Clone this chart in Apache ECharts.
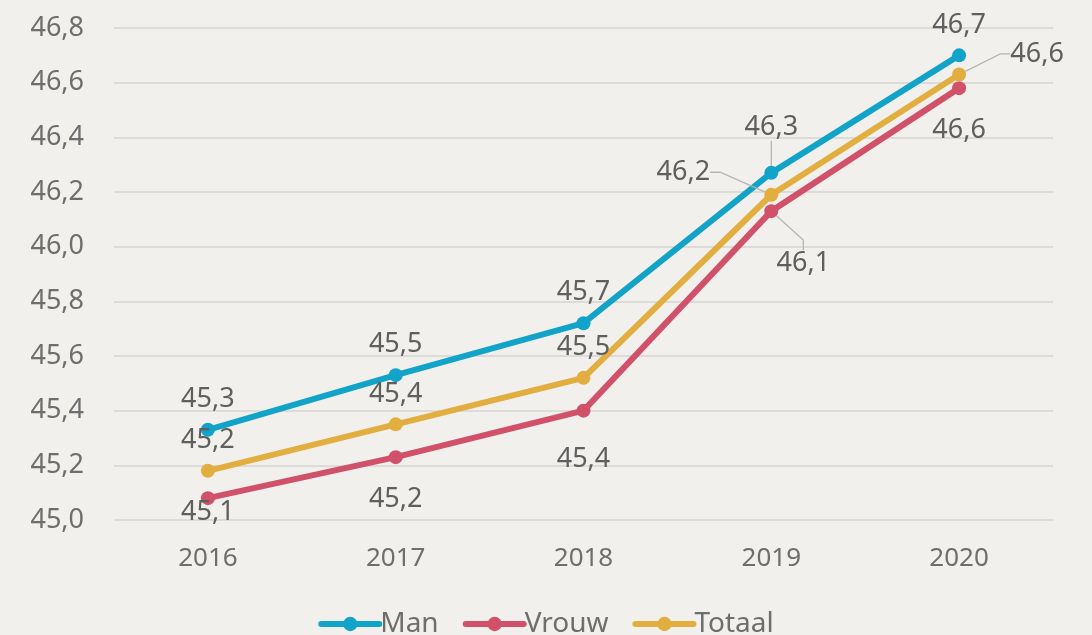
<!DOCTYPE html>
<html><head><meta charset="utf-8">
<script src="https://cdn.jsdelivr.net/npm/echarts@6/dist/echarts.min.js"></script>
<style>html,body{margin:0;padding:0;background:#F1F0EC}#c{width:1092px;height:635px}</style>
</head><body><div id="c"></div>
<script>
const categories = ['2016','2017','2018','2019','2020'];
const man = [45.33, 45.53, 45.72, 46.27, 46.70];
const vrouw = [45.08, 45.23, 45.40, 46.13, 46.58];
const totaal = [45.18, 45.35, 45.52, 46.19, 46.63];
const yTicks = {min: 45.0, max: 46.8, interval: 0.2};

const FONT = '"Noto Sans", sans-serif';
const fmt = v => v.toFixed(1).replace('.', ',');
const labelBase = {show: true, fontFamily: FONT, fontSize: 27, color: '#5f5f5f',
  formatter: p => fmt(p.value)};

// per-point label tweaks (position / distance / offsets)
const manLab = [{}, {}, {}, {dy: -15, line: true}, {}];
const vrouwLab = [{distance: -6}, {distance: 22}, {distance: 28}, {dx: 32, dy: 22, line: true}, {distance: 22}];
const totLab = [{}, {}, {}, {dx: -88, dy: 8, line: true}, {dx: 78, dy: 10, line: true}];

function mk(name, vals, color, pos, tweaks) {
  return {
    name, type: 'line', data: vals.map((v, i) => {
      const t = tweaks[i];
      const d = {value: v, label: {}};
      if (t.distance !== undefined) d.label.distance = t.distance;
      d.labelLine = {show: !!t.line, lineStyle: {color: '#b5b5b5', width: 1.3}};
      return d;
    }),
    symbol: 'circle', symbolSize: 14, color,
    lineStyle: {width: 6, color},
    itemStyle: {color},
    label: Object.assign({}, labelBase, {position: pos, distance: 10}),
    labelLayout: p => {
      const t = tweaks[p.dataIndex];
      return {dx: t.dx || 0, dy: t.dy || 0};
    },
    labelLine: {show: false, smooth: false, length2: 10},
    z: 2
  };
}

const chart = echarts.init(document.getElementById('c'));
chart.setOption({
  backgroundColor: '#F1F0EC',
  animation: false,
  grid: {left: 114, right: 39, top: 28, bottom: 115},
  xAxis: {type: 'category', data: categories, boundaryGap: true,
    axisLine: {show: false}, axisTick: {show: false},
    axisLabel: {margin: 26, fontFamily: FONT, fontSize: 26, color: '#6e6e6e'}},
  yAxis: {type: 'value', min: yTicks.min, max: yTicks.max, interval: yTicks.interval,
    axisLine: {show: false}, axisTick: {show: false},
    splitLine: {lineStyle: {color: '#dcdbd7', width: 2}},
    axisLabel: {margin: 30, fontFamily: FONT, fontSize: 27, color: '#6e6e6e', formatter: v => fmt(v)}},
  legend: {bottom: -8, left: 'center', itemWidth: 58, itemHeight: 18, itemGap: 24,
    lineStyle: {width: 6, cap: 'round'},
    textStyle: {fontFamily: FONT, fontSize: 28, color: '#6e6e6e', padding: [0,0,0,-4]},
    data: ['Man', 'Vrouw', 'Totaal']},
  series: [
    mk('Man', man, '#12A3C8', 'top', manLab),
    mk('Vrouw', vrouw, '#D1516A', 'bottom', vrouwLab),
    mk('Totaal', totaal, '#E1AE3F', 'top', totLab)
  ]
});
</script></body></html>
